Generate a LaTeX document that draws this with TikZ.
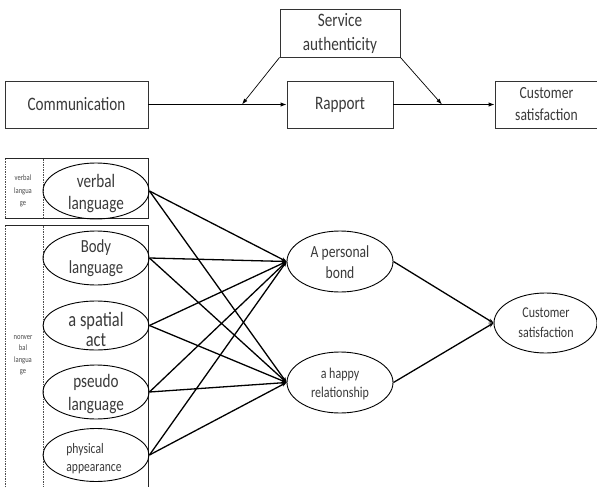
\documentclass[tikz,border=0pt]{standalone}
\usepackage{fontspec}
\setmainfont{Carlito}[FakeStretch=0.8]
\usetikzlibrary{shapes.geometric,arrows.meta}
\definecolor{txt}{HTML}{3A3A3A}
\definecolor{smalltxt}{HTML}{4A4A4A}
\begin{document}
\begin{tikzpicture}[x=1pt,y=-1pt,
  box/.style={draw=black!80,line width=0.8pt,rectangle,inner sep=0pt,text=txt,align=center,font=\fontsize{19}{24}\selectfont},
  ell/.style={draw=black,line width=0.9pt,ellipse,inner sep=0pt},
  lbl/.style={text=txt,align=center,inner sep=0pt},
  smalllbl/.style={text=smalltxt,align=center,inner sep=0pt},
  mainarr/.style={line width=1.6pt,-{Latex[length=6pt,width=4.5pt]}},
  thinarr/.style={line width=0.7pt,-{Latex[length=6pt,width=4pt]}},
  conn/.style={line width=1.3pt,-{Stealth[length=5pt,width=4pt]}},
  solidedge/.style={line width=0.9pt,draw=black!85},
  dashedge/.style={line width=0.6pt,draw=black!70,dash pattern=on 1.5pt off 1pt}
]
\useasboundingbox (0,0) rectangle (597,487);
\fill[white] (0,0) rectangle (597,487);

% ---- top model ----
\node[box,minimum width=143pt,minimum height=47pt] (comm) at (76.5,104.5) {Communication};
\node[box,minimum width=106pt,minimum height=47pt] (rap) at (340,104.5) {Rapport};
\node[box,minimum width=103pt,minimum height=47pt,font=\fontsize{17}{22}\selectfont] (cs) at (546.5,104.5) {Customer\\satisfaction};
\node[box,minimum width=120pt,minimum height=48pt] (sa) at (340,33) {Service\\authenticity};
\coordinate (m1) at (242,104.5);
\coordinate (m2) at (442,104.5);
\draw[mainarr] (comm) -- (rap);
\draw[mainarr] (rap) -- (cs);
\draw[thinarr] (sa.south west) -- (m1);
\draw[thinarr] (sa.south east) -- (m2);

% ---- left frames ----
\node[minimum width=143pt,minimum height=59pt,inner sep=0pt] (vbox) at (76.5,188.5) {};
\draw[solidedge] (vbox.south west) -- (vbox.south east) -- (vbox.north east) -- (vbox.north west);
\draw[dashedge] (vbox.north west) -- (vbox.south west);
\draw[dashedge] (43,159) -- (43,218);
\node[minimum width=143pt,minimum height=264pt,inner sep=0pt] (nbox) at (76.5,358) {};
\draw[solidedge] (nbox.south east) -- (nbox.north east) -- (nbox.north west);
\draw[dashedge] (nbox.north west) -- (nbox.south west);
\draw[dashedge] (43,226) -- (43,490);
\node[smalllbl,font=\fontsize{8.2}{12.5}\selectfont] (vlab) at (23,191) {verbal\\langua\\ge};
\node[smalllbl,font=\fontsize{8.2}{11.5}\selectfont] (nlab) at (23,355) {nonver\\bal\\langua\\ge};

% ---- left ellipses ----
\node[ell,minimum width=106pt,minimum height=56pt] (vb) at (96,191) {};
\node[lbl,font=\fontsize{19}{22}\selectfont] (vbt) at (96,194) {verbal\\language};
\node[ell,minimum width=106pt,minimum height=54pt] (bl) at (96,258) {};
\node[lbl,font=\fontsize{18.5}{21}\selectfont] (blt) at (96,258.5) {Body\\language};
\node[ell,minimum width=106pt,minimum height=49pt] (sp) at (96,325.5) {};
\node[lbl,font=\fontsize{20.5}{20}\selectfont] (spt) at (96,329) {a spatial\\act};
\node[ell,minimum width=106pt,minimum height=54pt] (ps) at (96,392) {};
\node[lbl,font=\fontsize{19}{23}\selectfont] (pst) at (96,394.5) {pseudo\\language};
\node[ell,minimum width=106pt,minimum height=53pt] (ph) at (96,455) {};
\node[lbl,align=left,font=\fontsize{14.5}{18}\selectfont] (pht) at (94,459) {physical\\appearance};

% ---- middle ellipses ----
\node[ell,minimum width=106pt,minimum height=61pt] (pb) at (340,261.5) {};
\node[lbl,font=\fontsize{17}{21}\selectfont] (pbt) at (340,262.5) {A personal\\bond};
\node[ell,minimum width=106pt,minimum height=61pt] (hr) at (340,382.5) {};
\node[lbl,font=\fontsize{15}{19}\selectfont] (hrt) at (340,383.5) {a happy\\relationship};

% ---- right ellipse ----
\node[ell,minimum width=103pt,minimum height=60pt] (cs2) at (545.5,323) {};
\node[lbl,font=\fontsize{15}{20}\selectfont] (cs2t) at (546,323) {Customer\\satisfaction};

% ---- connectors ----
\foreach \s in {vb,bl,sp,ps,ph}{
  \foreach \t in {pb,hr}{
    \draw[conn] (\s.east) -- (\t.west);
  }
}
\draw[conn] (pb.east) -- (cs2.west);
\draw[conn] (hr.east) -- (cs2.west);
\end{tikzpicture}
\end{document}
